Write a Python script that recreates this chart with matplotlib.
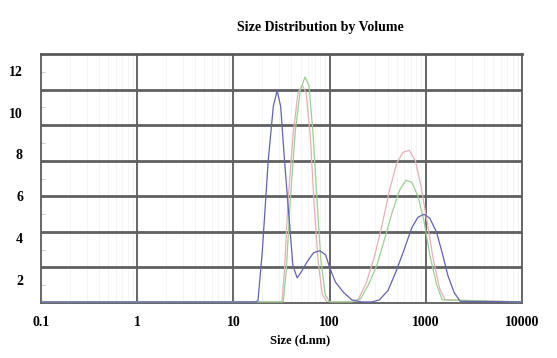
import matplotlib
matplotlib.use("Agg")
import matplotlib.pyplot as plt
import numpy as np

plt.rcParams['font.family'] = ['Liberation Serif', 'DejaVu Serif']

# y-axis frame
y_bottom = 0.9
y_top = 12.8
grid_y = [2.6, 4.3, 6.0, 7.7, 9.4, 11.1]
minor_y = [1.75, 3.45, 5.15, 6.85, 8.55, 10.25, 11.95]
ytick_vals = [2, 4, 6, 8, 10, 12]
xtick_vals = [0.1, 1, 10, 100, 1000, 10000]
xtick_labels = ['0.1', '1', '10', '100', '1000', '10000']

# record 1 (blue)
blue_size = [0.1, 1, 10, 16.7, 18, 20, 23, 26, 28.5, 31, 34, 38, 41.5, 46, 51, 59,
             68, 79, 91, 100, 115, 140, 170, 215, 275, 330, 405, 490, 590, 715,
             830, 960, 1100, 1290, 1480, 1700, 1970, 2280, 10000]
blue_vol = [0.95, 0.95, 0.95, 0.95, 1.0, 3.4, 7.7, 10.3, 11.05, 10.3, 7.7, 4.9, 2.7,
            2.1, 2.4, 2.9, 3.3, 3.4, 3.2, 2.6, 1.9, 1.4, 1.05, 0.95, 0.95, 1.05,
            1.5, 2.4, 3.4, 4.5, 5.0, 5.14, 4.95, 4.3, 3.3, 2.2, 1.4, 0.98, 0.95]

# record 2 (red)
red_size = [0.1, 1, 10, 32, 34, 37, 42, 47, 52, 57, 63, 69, 76, 84, 94, 180, 200,
            240, 290, 350, 420, 500, 580, 670, 780, 890, 1030, 1200, 1390, 1590, 10000]
red_vol = [0.95, 0.95, 0.95, 0.95, 2.5, 5.8, 9.1, 10.95, 11.3, 10.95, 8.9, 5.6, 2.9,
           1.3, 0.95, 0.95, 1.1, 1.85, 3.05, 4.6, 6.3, 7.6, 8.1, 8.2, 7.7, 6.5,
           4.8, 2.95, 1.6, 1.05, 0.95]

# record 3 (green)
green_size = [0.1, 1, 10, 33, 35.5, 39, 44, 49.5, 55.5, 61, 67, 74, 81, 90, 100, 170,
              210, 255, 310, 370, 445, 535, 620, 715, 830, 960, 1100, 1290, 1480, 10000]
green_vol = [0.95, 0.95, 0.95, 0.95, 2.5, 5.8, 9.1, 11.05, 11.7, 11.3, 9.1, 5.8, 3.0,
             1.3, 0.95, 0.95, 1.1, 1.8, 2.7, 3.9, 5.2, 6.3, 6.76, 6.67, 6.0, 4.8,
             3.2, 1.8, 1.05, 0.95]

fig = plt.figure(figsize=(5.57, 3.58), dpi=100)
ax = fig.add_axes([41 / 557, 1 - 303 / 358, 481 / 557, 249 / 358])

ax.set_xscale('log')
ax.set_xlim(0.1, 10000)
ax.set_ylim(y_bottom, y_top)

# faint minor verticals, dark decade verticals, dark horizontals
for d in [0.1, 1, 10, 100, 1000]:
    for m in range(2, 10):
        ax.axvline(d * m, color='#f0f0f0', lw=0.5, zorder=0)
for x in [1, 10, 100, 1000]:
    ax.axvline(x, color='#5a5a5a', lw=1.3, zorder=1)
for y in grid_y:
    ax.axhline(y, color='#606060', lw=2.0, zorder=1)

ax.plot(red_size, red_vol, color='#e2b0b6', lw=0.9, zorder=2)
ax.plot(green_size, green_vol, color='#9ccf92', lw=0.9, zorder=3)
ax.plot(blue_size, blue_vol, color='#6262b0', lw=0.9, zorder=4)

for s in ax.spines.values():
    s.set_color('#5a5a5a')
    s.set_linewidth(1.3)
ax.spines['top'].set_linewidth(2.0)

ax.set_yticks(ytick_vals)
ax.set_yticklabels([str(v) for v in ytick_vals], fontsize=10, fontweight='bold')
ax.set_yticks(minor_y, minor=True)
ax.tick_params(axis='y', which='major', length=0, pad=13)
ax.tick_params(axis='y', which='minor', direction='in', length=3, color='#c0c0c0')

ax.set_xticks(xtick_vals)
ax.set_xticklabels(xtick_labels, fontsize=10, fontweight='bold')
ax.xaxis.set_minor_locator(matplotlib.ticker.NullLocator())
ax.tick_params(axis='x', which='major', length=0, pad=9)

fig.text(320 / 557, 1 - 28 / 358, 'Size Distribution by Volume', ha='center', va='center',
         fontsize=10, fontweight='bold')
fig.text(300 / 557, 1 - 340 / 358, 'Size (d.nm)', ha='center', va='center',
         fontsize=9, fontweight='bold')

fig.savefig('out.png', dpi=100)
